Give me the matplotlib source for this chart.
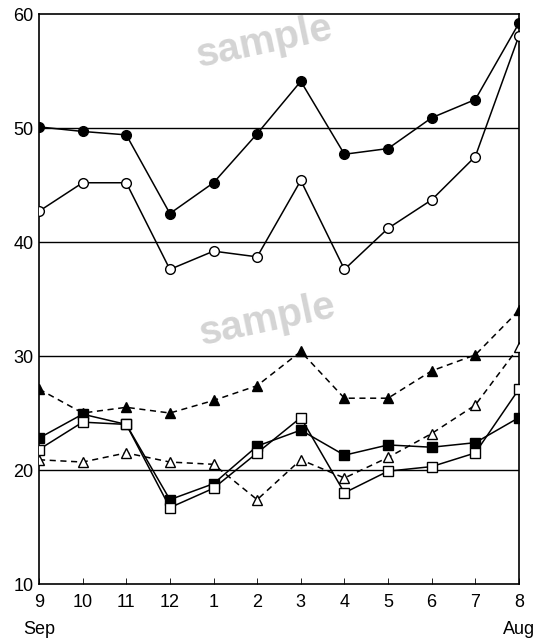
import matplotlib.pyplot as plt
import numpy as np

plt.rcParams['font.family'] = ['Liberation Sans', 'DejaVu Sans']

months = ["9", "10", "11", "12", "1", "2", "3", "4", "5", "6", "7", "8"]

filled_circle = [50.1, 49.7, 49.4, 42.5, 45.2, 49.5, 54.1, 47.7, 48.2, 50.9, 52.5, 59.2]
open_circle = [42.7, 45.2, 45.2, 37.6, 39.2, 38.7, 45.4, 37.6, 41.2, 43.7, 47.5, 58.1]
filled_tri = [27.1, 25.0, 25.5, 25.0, 26.1, 27.4, 30.4, 26.3, 26.3, 28.7, 30.1, 34.0]
open_tri = [20.9, 20.7, 21.5, 20.7, 20.5, 17.4, 20.9, 19.3, 21.1, 23.2, 25.7, 30.8]
filled_sq = [22.8, 24.9, 24.0, 17.4, 18.8, 22.1, 23.5, 21.3, 22.2, 22.0, 22.4, 24.6]
open_sq = [21.8, 24.2, 24.0, 16.7, 18.4, 21.5, 24.6, 18.0, 19.9, 20.3, 21.5, 27.1]

x = np.arange(len(months))

fig = plt.figure(figsize=(5.35, 6.41), dpi=100)
ax = fig.add_axes([0.0729, 0.0889, 0.8971, 0.8892])

## watermark, drawn behind the axes
for (wx, wy) in [(0.495, 0.935), (0.50, 0.50)]:
    fig.text(wx, wy, "sample", fontsize=29, fontweight="bold", color="#d4d4d4",
             rotation=12, ha="center", va="center", zorder=-1)

for yv in [20, 30, 40, 50]:
    ax.axhline(yv, color="black", lw=1.0, zorder=1)

ax.plot(x, filled_circle, "-", color="black", lw=1.1, marker="o", ms=7,
        mfc="black", mec="black", zorder=3)
ax.plot(x, open_circle, "-", color="black", lw=1.1, marker="o", ms=7,
        mfc="white", mec="black", zorder=3)
ax.plot(x, filled_tri, "--", color="black", lw=1.1, marker="^", ms=7,
        mfc="black", mec="black", dashes=(4, 3), zorder=3)
ax.plot(x, open_tri, "--", color="black", lw=1.1, marker="^", ms=7,
        mfc="white", mec="black", dashes=(4, 3), zorder=3)
ax.plot(x, filled_sq, "-", color="black", lw=1.1, marker="s", ms=6.5,
        mfc="black", mec="black", zorder=3)
ax.plot(x, open_sq, "-", color="black", lw=1.1, marker="s", ms=6.5,
        mfc="white", mec="black", zorder=3)

ax.set_xlim(0, len(months) - 1)
ax.set_ylim(10, 60)
ax.set_yticks([10, 20, 30, 40, 50, 60])
ax.set_xticks(x)
ax.set_xticklabels(months, fontsize=13)
ax.tick_params(axis="x", direction="in", length=4, width=0.6, pad=7)
ax.tick_params(axis="y", length=0, labelsize=13, pad=4)
ax.patch.set_alpha(0)
for s in ax.spines.values():
    s.set_linewidth(1.2)

ax.text(0, -0.08, "Sep", transform=ax.get_xaxis_transform(), ha="center",
        va="center", fontsize=13)
ax.text(len(months) - 1, -0.08, "Aug", transform=ax.get_xaxis_transform(),
        ha="center", va="center", fontsize=13)

fig.savefig("out.png", dpi=100)
